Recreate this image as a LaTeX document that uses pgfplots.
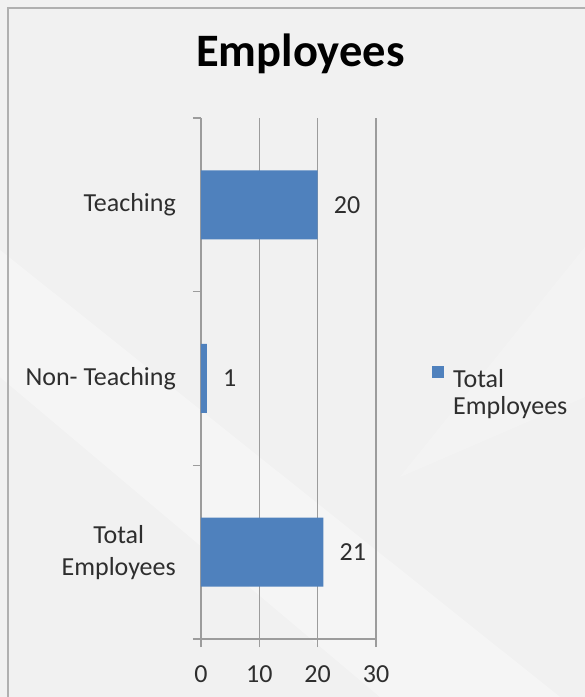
\documentclass[border=0pt]{standalone}
\usepackage{pgfplots}
\pgfplotsset{compat=1.18}
\usepackage{fontspec}
\setmainfont{Carlito}
\definecolor{barblue}{HTML}{4F81BD}
\definecolor{txt}{HTML}{2E2E2E}
\definecolor{gridc}{HTML}{9C9C9C}
\definecolor{bgc}{HTML}{F1F1F1}
\begin{document}
\begin{tikzpicture}[x=1pt,y=1pt]
\path[use as bounding box] (0,0) rectangle (585,697);
\begin{scope}
\clip (0,0) rectangle (585,697);
\fill[bgc] (0,0) rectangle (585,697);
\fill[white,opacity=0.35] (0,447) -- (0,320) -- (380,0) -- (560,0) -- cycle;
\fill[white,opacity=0.2] (585,450) -- (585,300) -- (400,220) -- cycle;
\draw[color=gridc!80, line width=1.6pt] (8,-20) -- (8,689) -- (620,689);
\end{scope}
\begin{axis}[
  at={(201pt,58pt)}, anchor=south west,
  scale only axis, width=175pt, height=521pt,
  xbar, bar width=69pt,
  xmin=0, xmax=30, ymin=-0.5, ymax=2.5,
  xtick={0,10,20,30}, ytick={0,1,2},
  yticklabels={{Total\\Employees}, {Non- Teaching}, {Teaching}},
  axis x line*=bottom, axis y line*=left,
  axis line style={gridc, line width=1.2pt, -},
  xmajorgrids, major grid style={gridc, line width=1.2pt},
  tick align=outside,
  major tick length=8pt, minor tick length=8pt,
  major x tick style={gridc, line width=1.2pt},
  major y tick style={draw=none},
  minor ytick={-0.5,0.5,1.5,2.5},
  minor y tick style={gridc, line width=1.2pt},
  yticklabel style={align=center, font=\fontsize{26}{32}\selectfont, text=txt, inner sep=0pt, xshift=-17pt},
  xticklabel style={font=\fontsize{26}{30}\selectfont, text=txt, inner sep=0pt, yshift=-18pt},
  /pgf/number format/assume math mode=true,
  nodes near coords,
  nodes near coords align={horizontal},
  every node near coord/.append style={font=\fontsize{26}{30}\selectfont, text=txt, inner sep=0pt, xshift=16pt},
  title={Employees},
  title style={at={(0.5686,1.087)}, anchor=base, font=\fontsize{46.5}{50}\bfseries, text=black, inner sep=0pt},
  legend style={at={(1.32,0.502)}, anchor=west, draw=none, fill=none, inner sep=0pt, font=\fontsize{26}{30}\selectfont, text=txt, column sep=9pt, nodes={inner sep=0pt}},
  legend image code/.code={\fill[barblue] (0pt,0pt) rectangle (12pt,12pt);},
  clip=false,
]
\addplot[fill=barblue, draw=none] coordinates {(21,0) (1,1) (20,2)};
\addlegendentry{\begin{tabular}[t]{@{}l@{}}Total\\[-3pt]Employees\end{tabular}}
\end{axis}
\end{tikzpicture}
\end{document}
